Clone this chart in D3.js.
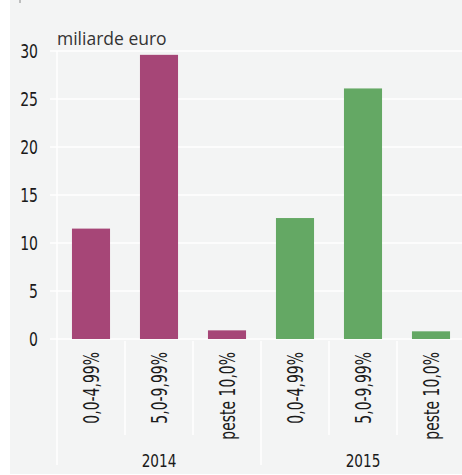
<!DOCTYPE html>
<html>
<head>
<meta charset="utf-8">
<script src="https://cdn.jsdelivr.net/npm/d3@7"></script>
<style>
	body { margin: 0; background: #fff; }
	text { font-family: 'DejaVu Sans Condensed', 'DejaVu Sans', sans-serif; font-stretch: condensed; fill: #1a1a1a; }
</style>
</head>
<body>
<div id="draw"></div>
<script>
const years = ['2014', '2015'];
const bands = ['0,0-4,99%', '5,0-9,99%', 'peste 10,0%'];
const values2014 = [11.5, 29.6, 0.9];
const values2015 = [12.6, 26.1, 0.8];
const yTicks = [0, 5, 10, 15, 20, 25, 30];
const unitLabel = 'miliarde euro';
const colors = ['#a64677', '#64a864'];

var width = 462, height = 475;

var svg = d3
	.select('#draw')
	.append('svg')
	.attr('width', width)
	.attr('height', height);

// background panel
svg.append('rect')
	.attr('x', 10).attr('y', 0)
	.attr('width', width - 10).attr('height', 474)
	.style('fill', '#f3f4f4');

svg.append('line')
	.attr('x1', 20).attr('x2', 20).attr('y1', 0).attr('y2', 3)
	.style('stroke', '#888').style('stroke-width', 1);

// build flat data
var data = [];
years.forEach(function (yr, i) {
	var vals = i == 0 ? values2014 : values2015;
	bands.forEach(function (b, j) {
		data.push({ year: yr, band: b, key: yr + '|' + b, value: vals[j], color: colors[i] });
	});
});

var x = d3.scaleBand()
	.domain(data.map(function (d) { return d.key; }))
	.range([57, 465])
	.paddingInner(0.44)
	.paddingOuter(0.22);

var y = d3.scaleLinear().domain([0, 30]).range([339, 51]);

// gridlines
svg.append('g')
	.selectAll('line')
	.data(yTicks)
	.enter()
	.append('line')
	.attr('x1', 50).attr('x2', width)
	.attr('y1', function (d) { return y(d); })
	.attr('y2', function (d) { return y(d); })
	.style('stroke', '#fff').style('stroke-width', 1.5);

// y axis labels (squeezed to look condensed)
svg.append('g')
	.selectAll('text')
	.data(yTicks)
	.enter()
	.append('text')
	.attr('text-anchor', 'end')
	.attr('transform', function (d) {
		return 'translate(38,' + (y(d) + 7) + ') scale(0.8,1)';
	})
	.style('font-size', '19.5px')
	.text(function (d) { return d; });

svg.append('text')
	.attr('x', 57).attr('y', 45)
	.style('font-family', "'Open Sans', sans-serif")
	.style('font-stretch', 'normal')
	.style('font-size', '17.5px')
	.style('fill', '#333')
	.text(unitLabel);

// separators
var x0 = 57;
svg.append('line')
	.attr('x1', x0).attr('x2', x0).attr('y1', 51).attr('y2', 465)
	.style('stroke', '#fff').style('stroke-width', 1.5);

data.forEach(function (d, i) {
	if (i == 0) return;
	var sx = x(d.key) - x.bandwidth() * 0.44 / 0.56 / 2;
	svg.append('line')
		.attr('x1', sx).attr('x2', sx)
		.attr('y1', 341)
		.attr('y2', d.band == bands[0] ? 465 : 435)
		.style('stroke', '#fff').style('stroke-width', 1.5);
});

// bars
svg.selectAll('.bar')
	.data(data)
	.enter()
	.append('rect')
	.attr('class', 'bar')
	.attr('x', function (d) { return x(d.key); })
	.attr('y', function (d) { return y(d.value); })
	.attr('width', x.bandwidth())
	.attr('height', function (d) { return y(0) - y(d.value); })
	.style('fill', function (d) { return d.color; });

// rotated category labels
svg.selectAll('.cat')
	.data(data)
	.enter()
	.append('text')
	.attr('class', 'cat')
	.attr('text-anchor', 'end')
	.attr('transform', function (d) {
		return 'translate(' + (x(d.key) + x.bandwidth() / 2 + 7.5) + ',352) rotate(-90) scale(0.74,1)';
	})
	.style('font-size', '21px')
	.text(function (d) { return d.band; });

// year labels
years.forEach(function (yr) {
	var keys = bands.map(function (b) { return yr + '|' + b; });
	var cx = (x(keys[0]) + x(keys[2]) + x.bandwidth()) / 2;
	svg.append('text')
		.attr('text-anchor', 'middle')
		.attr('transform', 'translate(' + cx + ',467) scale(0.82,1)')
		.style('font-size', '18.5px')
		.text(yr);
});
</script>
</body>
</html>
